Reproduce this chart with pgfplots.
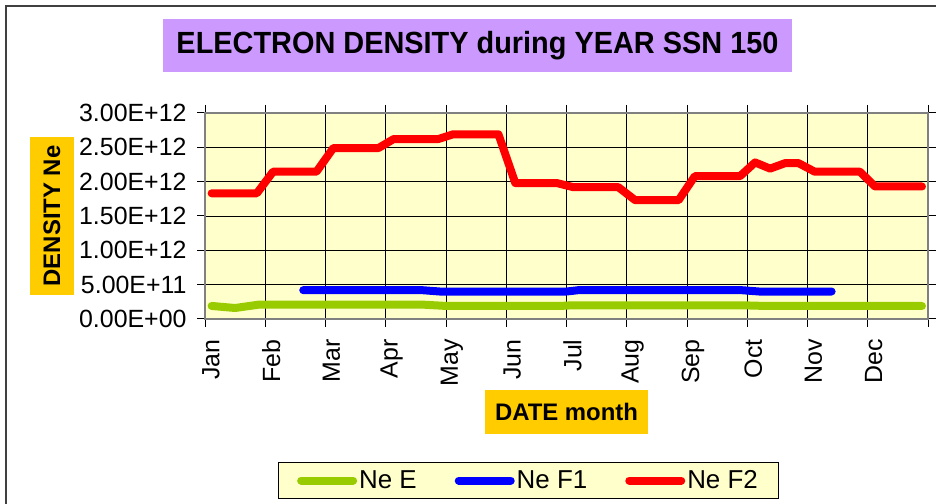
\documentclass[border=0pt]{standalone}
\usepackage{pgfplots}
\pgfplotsset{compat=1.18}
\usepackage{fontspec}
\setmainfont{Liberation Sans}
\definecolor{plotbg}{HTML}{FFFFCC}
\definecolor{titlepurple}{HTML}{CC99FF}
\definecolor{labelgold}{HTML}{FFCC00}
\definecolor{neE}{HTML}{99CC00}
\definecolor{neF1}{HTML}{0000FF}
\definecolor{neF2}{HTML}{FF0000}
\begin{document}
\begin{tikzpicture}[x=1bp,y=1bp]
\useasboundingbox (0,0) rectangle (936,504);
\draw[line width=1.5bp, black!75] (6,-10) -- (6,498) -- (950,498);
\node[fill=titlepurple, minimum width=629bp, minimum height=53bp, inner sep=0pt,
  font=\bfseries\fontsize{29}{32}\selectfont] at (477.5,458.5) {\scalebox{1}[1.06]{ELECTRON DENSITY during YEAR SSN 150}};
\begin{axis}[
  at={(205bp,185bp)}, anchor=south west, scale only axis,
  width=723bp, height=206bp,
  xmin=0, xmax=12, ymin=0, ymax=3,
  axis background/.style={fill=plotbg},
  axis line style={draw=gray, line width=1.5bp},
  grid=major, major grid style={black, line width=0.8bp},
  xtick={0,1,2,3,4,5,6,7,8,9,10,11,12},
  xticklabels={Jan,Feb,Mar,Apr,May,Jun,Jul,Aug,Sep,Oct,Nov,Dec,{}},
  ytick={0,0.5,1,1.5,2,2.5,3},
  yticklabels={0.00E+00,5.00E+11,1.00E+12,1.50E+12,2.00E+12,2.50E+12,3.00E+12},
  /pgf/number format/assume math mode=true,
  tick align=outside, major tick length=8bp,
  tick style={black, line width=1bp},
  xticklabel style={rotate=90, anchor=east, yshift=-6bp, xshift=-9bp, font=\fontsize{25}{28}\selectfont},
  yticklabel style={anchor=east, xshift=-7bp, font=\fontsize{25}{28}\selectfont},
  xlabel={DATE month},
  xlabel style={at={(axis description cs:0.5,-0.4515)}, anchor=center, fill=labelgold,
    minimum width=163bp, minimum height=44bp, inner sep=0pt,
    font=\bfseries\fontsize{24}{27}\selectfont},
  ylabel={DENSITY Ne},
  ylabel style={at={(axis description cs:-0.2116,0.5)}, anchor=center, rotate=0, fill=labelgold,
    minimum width=158bp, minimum height=44bp, inner sep=0pt,
    font=\bfseries\fontsize{24}{27}\selectfont},
  legend columns=3,
  legend style={at={(0.4474,-0.784)}, anchor=center, draw=black, line width=1bp, fill=plotbg,
    font=\fontsize{26}{29}\selectfont, inner xsep=19bp, inner ysep=6bp,
    nodes={inner sep=2bp},
    /tikz/every even column/.append style={column sep=36bp}},
  legend image code/.code={\draw[#1, line cap=round] (4bp,0bp) -- (56bp,0bp);},
  every axis plot/.append style={line width=8bp, line join=round, line cap=round},
]
\addplot[neE] coordinates {(0.11,0.19)(0.5,0.16)(0.9,0.21)(3.6,0.21)(4.0,0.19)(5.9,0.19)(6.1,0.20)(8.9,0.20)(9.3,0.19)(11.9,0.19)};
\addlegendentry{Ne E}
\addplot[neF1] coordinates {(1.63,0.42)(3.6,0.42)(3.9,0.40)(6.0,0.40)(6.2,0.42)(8.9,0.42)(9.2,0.40)(10.4,0.40)};
\addlegendentry{Ne F1}
\addplot[neF2] coordinates {(0.11,1.83)(0.86,1.83)(1.13,2.145)(1.85,2.145)(2.13,2.49)(2.88,2.49)(3.13,2.62)(3.87,2.62)(4.12,2.69)(4.87,2.69)(5.15,1.98)(5.84,1.98)(6.11,1.92)(6.86,1.92)(7.14,1.73)(7.86,1.73)(8.13,2.08)(8.88,2.08)(9.13,2.28)(9.38,2.19)(9.63,2.27)(9.85,2.27)(10.12,2.145)(10.87,2.145)(11.12,1.93)(11.9,1.93)};
\addlegendentry{Ne F2}
\end{axis}
\end{tikzpicture}
\end{document}
